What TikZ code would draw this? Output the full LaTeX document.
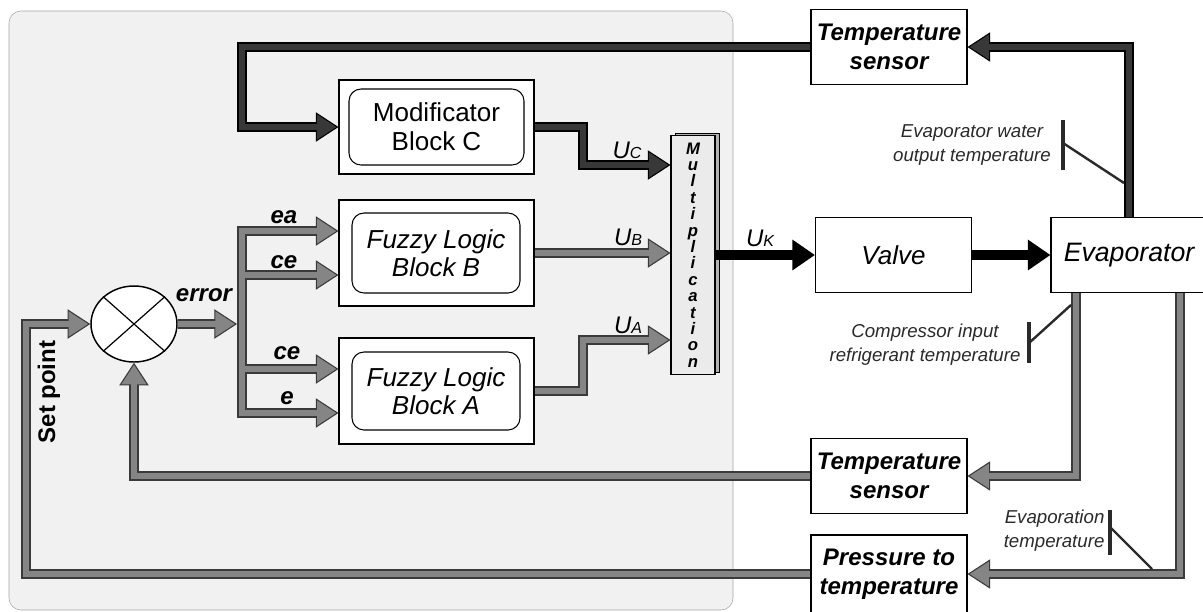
\documentclass[tikz,border=0pt]{standalone}
\usepackage{fontspec}
\setmainfont{Liberation Sans}
\usetikzlibrary{arrows.meta,positioning,shapes.geometric,shadows}
\definecolor{pipegray}{HTML}{858585}
\definecolor{pipeedge}{HTML}{3A3A3A}
\definecolor{pipedark}{HTML}{383838}
\definecolor{panel}{HTML}{F1F1F1}
\definecolor{note}{HTML}{2A2A2A}
\tikzset{
  box/.style={draw=black,fill=white,line width=0.8pt,inner sep=0pt,align=center},
  blkbox/.style={box,minimum width=146.25pt,minimum height=#1},
  inbox/.style={draw=black,line width=0.8pt,rounded corners=9pt,inner sep=0pt,align=center,font=\fontsize{19.5}{21.5}\selectfont},
  sensor/.style={box,minimum width=117pt,minimum height=56.25pt,font=\fontsize{18}{21.5}\selectfont\bfseries\itshape},
  plant/.style={box,minimum width=117pt,minimum height=56.25pt,font=\fontsize{19.5}{21.5}\selectfont\itshape},
  sig/.style={font=\fontsize{18}{20}\selectfont\bfseries\itshape,inner sep=1pt},
  uu/.style={font=\fontsize{18}{20}\selectfont\itshape,inner sep=1pt},
  note/.style={font=\fontsize{14}{18}\selectfont\itshape,text=note,align=center,inner sep=1pt},
  probe/.style={draw=note,line width=2.6pt},
  probeln/.style={draw=note,line width=1.8pt},
  blk/.style={draw=black,line width=8pt,-{Triangle[length=17pt,width=22pt]}},
  % two passes: outline first, then the inner colour
  pout/.style={line width=7.5pt,gy/.style={draw=pipeedge},dk/.style={draw=black},
    gtip/.style={-{Triangle[length=17pt,width=22pt,line width=0.8pt,fill=pipegray]}},
    dtip/.style={-{Triangle[length=17pt,width=22pt,line width=0.8pt,fill=pipedark]}}},
  pin/.style={line width=4.5pt,gy/.style={draw=pipegray},dk/.style={draw=pipedark},
    gtip/.style={shorten >=15pt},dtip/.style={shorten >=15pt}},
}
\newcommand\pipepaths{%
  \draw[dk,dtip] (tsTop.west) -- (242,47) |- (modC.west);
  \draw[dk,dtip] (modC.east) -- (583,127) |- (mult.west |- 0,165);
  \draw[dk,dtip] (evap.north) |- (tsTop.east);
  \draw[gy,gtip] (sum.east) -- (busin);
  \draw[gy,gtip] (242,413) -- (242,231) -- (fzB.west |- 0,231);
  \draw[gy,gtip] (242,231) -- (242,413) -- (fzA.west |- 0,413);
  \draw[gy,gtip] (242,275) -- (fzB.west |- 0,275);
  \draw[gy,gtip] (242,369) -- (fzA.west |- 0,369);
  \draw[gy,gtip] (fzB.east) -- (fzB.east -| mult.west);
  \draw[gy,gtip] (fzA.east) -- (583,391) |- (mult.west |- 0,340);
  \draw[gy,gtip] (evap.south -| 1076,0) |- (tsBot.east);
  \draw[gy,gtip] (evap.south -| 1180,0) |- (press.east);
  \draw[gy,gtip] (tsBot.west) -| (sum.south);
  \draw[gy,gtip] (press.west) -| (26,324) -- (sum.west);
}

\begin{document}
\begin{tikzpicture}[x=0.75pt,y=-0.75pt]
\useasboundingbox (0,0) rectangle (1203,611);
\fill[white] (0,0) rectangle (1203,611);
\draw[fill=panel,draw=black!35,rounded corners=9pt] (9,11) rectangle (733,610);

\node[sensor] (tsTop) at (889,47) {Temperature\\sensor};
\node[blkbox=70.5pt] (modC) at (436.5,127) {};
\node[inbox,minimum width=131.25pt,minimum height=57pt] (modCin) at (436.5,127) {Modificator\\Block C};
\node[blkbox=79.5pt] (fzB) at (436.5,253) {};
\node[inbox,font=\fontsize{19.5}{21}\selectfont\itshape,minimum width=126pt,minimum height=60pt] (fzBin) at (436,253) {Fuzzy Logic\\Block B};
\node[blkbox=79.5pt] (fzA) at (436.5,391) {};
\node[inbox,font=\fontsize{19.5}{21}\selectfont\itshape,minimum width=126pt,minimum height=58.5pt] (fzAin) at (436,391) {Fuzzy Logic\\Block A};
\node[box,fill=black!8,minimum width=33pt,minimum height=179.25pt,
  copy shadow={shadow xshift=3.5pt,shadow yshift=1.5pt,fill=black!30,draw=black},
  font=\fontsize{12.5}{12.3}\selectfont\bfseries\itshape] (mult) at (693,255) {M\\u\\l\\t\\i\\p\\l\\i\\c\\a\\t\\i\\o\\n};
\node[plant] (valve) at (893.5,255) {Valve};
\node[plant,font=\fontsize{20}{21.5}\selectfont\itshape] (evap) at (1129,255) {Evaporator};
\node[sensor] (tsBot) at (889,476) {Temperature\\sensor};
\node[sensor,minimum height=58.5pt] (press) at (889,574) {Pressure to\\temperature};
\node[draw,ellipse,fill=white,line width=1.1pt,inner sep=0pt,minimum width=64.5pt,minimum height=57pt] (sum) at (134,324) {};
\draw[line width=0.9pt] (sum.north west) -- (sum.south east) (sum.north east) -- (sum.south west);
\coordinate (busin) at (237,324);

\begin{scope}[pout] \pipepaths \end{scope}
\begin{scope}[pin] \pipepaths \end{scope}
\draw[blk] (mult.east) -- (valve.west);
\draw[blk] (valve.east) -- (evap.west);

\node[sig] (lerr) at (204,295) {error};
\node[sig] (lea) at (284,217) {ea};
\node[sig] (lceB) at (284,262) {ce};
\node[sig] (lceA) at (287,353) {ce};
\node[sig] (le) at (287,398) {e};
\node[sig,font=\fontsize{18}{20}\selectfont\bfseries,rotate=90] (lsp) at (49,392) {Set point};
\node[uu] (luc) at (627,150) {U{\fontsize{12}{12}\selectfont C}};
\node[uu] (lub) at (628,237) {U{\fontsize{12}{12}\selectfont B}};
\node[uu] (lua) at (628,325) {U{\fontsize{12}{12}\selectfont A}};
\node[uu] (luk) at (760,238) {U{\fontsize{12}{12}\selectfont K}};

\node[note] (nwat) at (972,145) {Evaporator water\\output temperature};
\node[note] (ncmp) at (925,345) {Compressor input\\refrigerant temperature};
\node[note,align=right,anchor=east] (nevp) at (1106,531) {Evaporation\\temperature};
\draw[probe] (1063,120) -- (1063,170);
\draw[probeln] (1063,143) -- (1124,183);
\draw[probe] (1029,322) -- (1029,363);
\draw[probeln] (1029,343) -- (1071,305);
\draw[probe] (1110,510) -- (1110,555);
\draw[probeln] (1110,527) -- (1152,569);
\end{tikzpicture}
\end{document}
